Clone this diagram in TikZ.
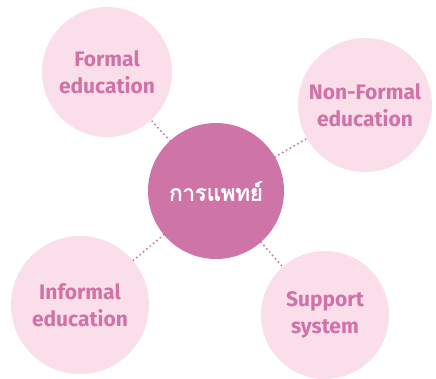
\documentclass[tikz,border=0pt]{standalone}
\usepackage{fontspec}
\setmainfont{Fira Sans}
\newfontfamily\thaifont[Script=Thai, FakeBold=2]{Loma}
\definecolor{hubpink}{HTML}{CE74A7}
\definecolor{softpink}{HTML}{FADFEA}
\definecolor{labelpink}{HTML}{D072A6}
\tikzset{
  hub/.style={circle, fill=hubpink, minimum size=136pt, inner sep=0pt, text=white,
    font=\thaifont\fontsize{22}{26}\selectfont},
  topic/.style={circle, fill=softpink, inner sep=0pt, text=labelpink, align=center,
    font=\bfseries\fontsize{21}{27}\selectfont},
  link/.style={hubpink, line width=2.2pt, line cap=round, dash pattern=on 0pt off 4.4pt}
}
\begin{document}
\begin{tikzpicture}[x=1pt, y=-1pt]
        \useasboundingbox (0, 0) rectangle (436, 378);

        % Draw the outer circles
        \node[topic, minimum size=130pt] (formal) at (107, 72) {Formal\\education};
        \node[topic, minimum size=134pt] (nonformal) at (365, 105) {Non-Formal\\education};
        \node[topic, minimum size=138pt] (informal) at (80, 305) {Informal\\education};
        \node[topic, minimum size=128pt] (support) at (325, 315) {Support\\system};

        % Draw the middle circle
        \node[hub] (medicine) at (216, 191) {การแพทย์};

        % Draw the dotted links
        \draw[link] (medicine) -- (formal);
        \draw[link] (medicine) -- (nonformal);
        \draw[link] (medicine) -- (informal);
        \draw[link] (medicine) -- (support);
    \end{tikzpicture}
\end{document}
